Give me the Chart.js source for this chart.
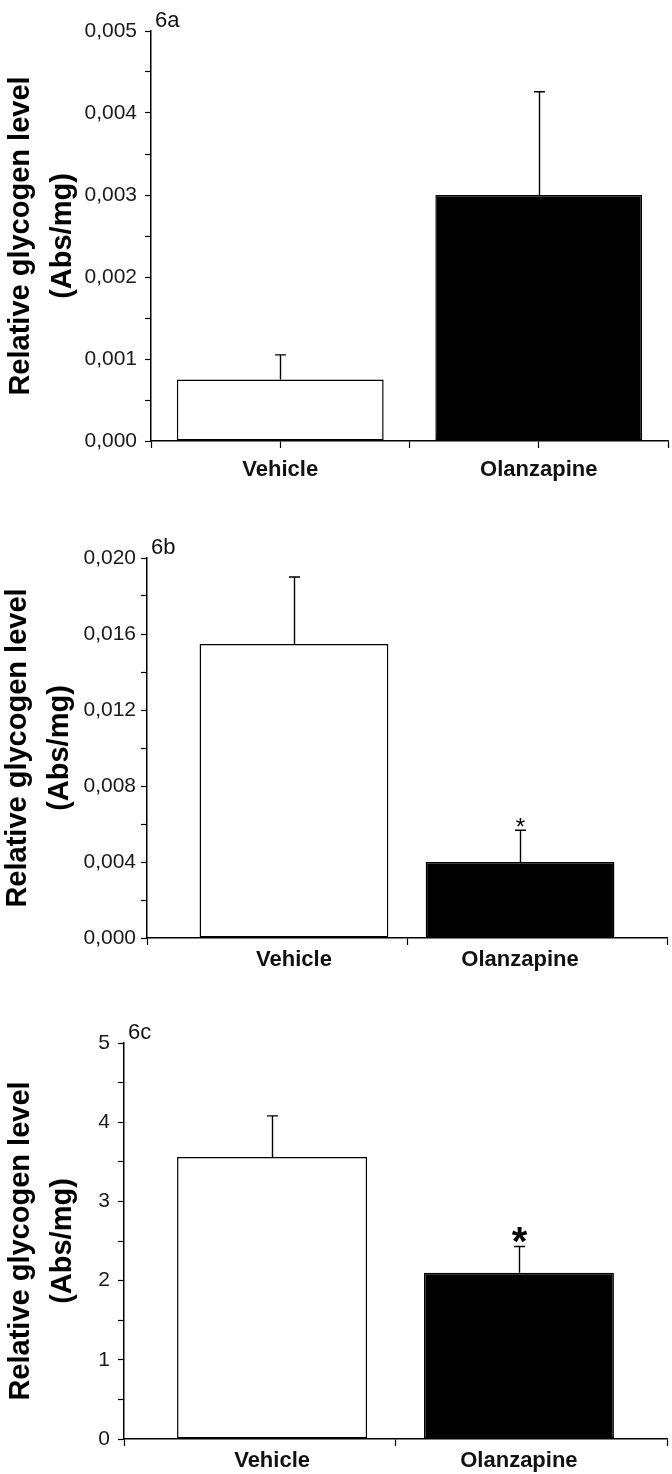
<!DOCTYPE html>
<html lang="en">
<head>
<meta charset="UTF-8">
<title>Relative glycogen level 6a-6c</title>
<script src="https://cdn.jsdelivr.net/npm/chart.js"></script>
<style>
  body { margin: 0; background: #fff; }
  #wrap { position: relative; width: 672px; height: 1474px; overflow: hidden; }
  .panel { position: absolute; left: 0; width: 672px; }
</style>
</head>
<body>
<div id="wrap">
  <div class="panel" style="top:0px"><canvas id="chart6a" width="672" height="490"></canvas></div>
  <div class="panel" style="top:490px"><canvas id="chart6b" width="672" height="490"></canvas></div>
  <div class="panel" style="top:980px"><canvas id="chart6c" width="672" height="494"></canvas></div>
</div>

<script>
// data
const categories = ['Vehicle', 'Olanzapine'];
const categoryPos = [1, 2];
const yTitle = ['Relative glycogen level', '(Abs/mg)'];

const mean6a = [0.00075, 0.0030];
const sem6a = [0.00030, 0.00126];
const sig6a = ['', ''];
const yTicks6a = [0, 0.001, 0.002, 0.003, 0.004, 0.005];

const mean6b = [0.01547, 0.0040];
const sem6b = [0.00353, 0.00167];
const sig6b = ['', '*'];
const yTicks6b = [0, 0.004, 0.008, 0.012, 0.016, 0.020];

const mean6c = [3.56, 2.10];
const sem6c = [0.52, 0.33];
const sig6c = ['', '*'];
const yTicks6c = [0, 1, 2, 3, 4, 5];

const FONT = "'Liberation Sans', Arial, sans-serif";

function fmtTick(v, decimals) {
  return v.toFixed(decimals).replace('.', ',');
}

// upward error bars + significance star, placed through the chart scales
function makeErrorPlugin(mean, sem, sig, st) {
  return {
    id: 'errorBars',
    afterDatasetsDraw(chart) {
      const ctx = chart.ctx;
      const x = chart.scales.x, y = chart.scales.y;
      ctx.save();
      ctx.strokeStyle = '#000';
      ctx.lineWidth = 1.4;
      mean.forEach((m, i) => {
        const px = Math.round(x.getPixelForValue(categoryPos[i])) + 0.5;
        const base = y.getPixelForValue(m);
        const top = y.getPixelForValue(m + sem[i]);
        ctx.beginPath();
        ctx.moveTo(px, base);
        ctx.lineTo(px, top);
        ctx.moveTo(px - 5.5, top);
        ctx.lineTo(px + 5.5, top);
        ctx.stroke();
        if (sig[i]) {
          ctx.font = st.starFont;
          ctx.fillStyle = '#000';
          ctx.textAlign = 'center';
          ctx.textBaseline = 'alphabetic';
          const mt = ctx.measureText(sig[i]);
          ctx.fillText(sig[i], px, top - st.starGap - mt.actualBoundingBoxDescent);
        }
      });
      ctx.restore();
    }
  };
}

function makeTagPlugin(tag) {
  return {
    id: 'panelTag',
    afterDraw(chart) {
      const ctx = chart.ctx, a = chart.chartArea;
      ctx.save();
      ctx.font = '22px ' + FONT;
      ctx.fillStyle = '#111';
      ctx.textAlign = 'left';
      ctx.textBaseline = 'alphabetic';
      ctx.fillText(tag, a.left + 4, a.top - 4);
      ctx.restore();
    }
  };
}

function makePanel(id, tag, mean, sem, sig, yTicks, decimals, st) {
  const minor = (yTicks[1] - yTicks[0]) / 2;
  const xTickVals = [st.xMin, categoryPos[0], (categoryPos[0] + categoryPos[1]) / 2, categoryPos[1], st.xMax];
  let minGap = Infinity;
  for (let i = 1; i < xTickVals.length; i++) minGap = Math.min(minGap, xTickVals[i] - xTickVals[i - 1]);

  new Chart(document.getElementById(id), {
    type: 'bar',
    data: {
      datasets: [{
        data: categoryPos.map((p, i) => ({ x: p, y: mean[i] })),
        backgroundColor: ['#ffffff', '#000000'],
        borderColor: '#000',
        borderWidth: 1.5,
        borderSkipped: false,
        categoryPercentage: 1,
        barPercentage: st.barFrac / minGap
      }]
    },
    options: {
      responsive: false,
      animation: false,
      layout: { padding: { top: st.padTop, right: st.padRight, left: 0, bottom: 0 } },
      plugins: { legend: { display: false }, tooltip: { enabled: false } },
      scales: {
        x: {
          type: 'linear',
          offset: false,
          min: st.xMin,
          max: st.xMax,
          afterBuildTicks: axis => { axis.ticks = xTickVals.map(v => ({ value: v })); },
          afterFit: scale => { scale.height = st.xAxisHeight; },
          border: { display: true, color: '#000', width: 1.5 },
          grid: {
            offset: false,
            drawOnChartArea: false,
            drawTicks: true,
            tickLength: 7,
            tickWidth: 1.2,
            tickColor: c => (st.centerTicks || !c.tick || !categoryPos.includes(c.tick.value)) ? '#000' : 'rgba(0,0,0,0)'
          },
          ticks: {
            autoSkip: false,
            maxRotation: 0,
            padding: 2,
            color: '#111',
            font: { family: FONT, size: 22, weight: 'bold', lineHeight: st.labelLH },
            callback: v => {
              const k = categoryPos.indexOf(v);
              return k >= 0 ? categories[k] : '';
            }
          }
        },
        y: {
          min: yTicks[0],
          max: yTicks[yTicks.length - 1],
          afterBuildTicks: axis => {
            const t = [];
            yTicks.forEach((v, i) => {
              t.push({ value: v });
              if (i < yTicks.length - 1) t.push({ value: v + minor });
            });
            axis.ticks = t;
          },
          afterFit: scale => { scale.width = st.yAxisWidth; },
          border: { display: true, color: '#000', width: 1.5 },
          grid: { drawOnChartArea: false, drawTicks: true, tickLength: 6, tickWidth: 1.2, tickColor: '#000' },
          ticks: {
            padding: st.tickPad,
            color: '#1a1a1a',
            font: { family: FONT, size: 21 },
            callback: v => yTicks.includes(v) ? fmtTick(v, decimals) : ''
          },
          title: {
            display: true,
            text: yTitle,
            color: '#000',
            padding: { top: st.titleShift, bottom: 0 },
            font: { family: FONT, size: 29, weight: 'bold', lineHeight: 1.45 }
          }
        }
      }
    },
    plugins: [makeErrorPlugin(mean, sem, sig, st), makeTagPlugin(tag)]
  });
}

makePanel('chart6a', '6a', mean6a, sem6a, sig6a, yTicks6a, 3, {
  padTop: 31, padRight: 4, xAxisHeight: 49, yAxisWidth: 151,
  xMin: 0.5, xMax: 2.5, barFrac: 0.8, centerTicks: true,
  labelLH: 1.85, tickPad: 8, titleShift: 0,
  starFont: '24px ' + FONT, starGap: 3
});

makePanel('chart6b', '6b', mean6b, sem6b, sig6b, yTicks6b, 3, {
  padTop: 68, padRight: 5, xAxisHeight: 42, yAxisWidth: 147,
  xMin: 0.35, xMax: 2.65, barFrac: 0.835, centerTicks: false,
  labelLH: 1.2, tickPad: 5, titleShift: -3,
  starFont: '24px ' + FONT, starGap: 3
});

makePanel('chart6c', '6c', mean6c, sem6c, sig6c, yTicks6c, 0, {
  padTop: 63, padRight: 5, xAxisHeight: 35, yAxisWidth: 124,
  xMin: 0.4, xMax: 2.6, barFrac: 0.77, centerTicks: false,
  labelLH: 1.15, tickPad: 8, titleShift: 0,
  starFont: 'bold 40px ' + FONT, starGap: 4
});
</script>
</body>
</html>
